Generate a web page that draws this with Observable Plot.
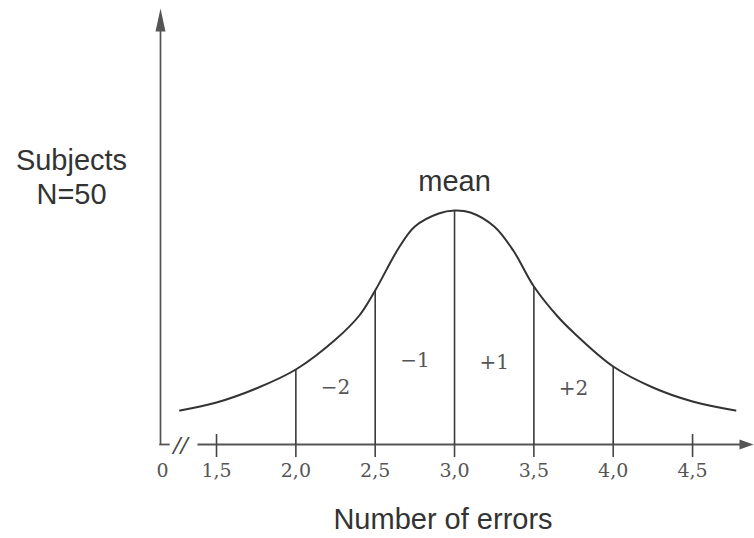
<!DOCTYPE html>
<html>
<head>
<meta charset="utf-8">
<script src="https://cdn.jsdelivr.net/npm/d3@7"></script>
<script src="https://cdn.jsdelivr.net/npm/@observablehq/plot@0.6"></script>
<style>
  body { margin: 0; background: #fff; }
</style>
</head>
<body>
<div id="chart"></div>
<script>
// Distribution of the number of errors made by subjects (N = 50)
const errors    = [1.27, 1.5, 1.75, 2.0, 2.25, 2.4, 2.5, 2.65, 2.75, 2.9, 3.0, 3.1, 3.25, 3.37, 3.5, 3.65, 3.75, 4.0, 4.25, 4.5, 4.77];
const frequency = [34, 42, 56, 75, 105, 129, 154, 197, 218, 231, 234, 232, 218, 194, 158, 128, 112, 78, 57, 43, 34];

// Standard-deviation cut points and the band names between them
const sigmaCuts  = [2.0, 2.5, 3.0, 3.5, 4.0];
const sigmaBands = ["−2", "−1", "+1", "+2"];
const meanValue  = 3.0;

// Axis ticks
const tickValues = [1.5, 2.0, 2.5, 3.0, 3.5, 4.0, 4.5];
const tickLabels = ["1,5", "2,0", "2,5", "3,0", "3,5", "4,0", "4,5"];

// ---- layout ----
const sans  = "'Liberation Sans', Arial, sans-serif";
const serif = "'DejaVu Serif', 'Liberation Serif', serif";
const ink = "#333";
const axisInk = "#555";

const x0 = 1.147, x1 = 4.884;   // horizontal extent of the axis
const yTop = 436;               // vertical extent of the axis
const breakAt = 1.273;          // axis break between 0 and 1,5
const bandLabelY = [57, 84, 82, 56];

const heightAt = v => frequency[errors.indexOf(v)];

// filled arrowheads, tip at the symbol origin
const arrowUp = { draw(ctx) { ctx.moveTo(0, 0); ctx.lineTo(5, 23); ctx.lineTo(-5, 23); ctx.closePath(); } };
const arrowRight = { draw(ctx) { ctx.moveTo(0, 0); ctx.lineTo(-14, 5); ctx.lineTo(-14, -5); ctx.closePath(); } };

const chart = Plot.plot({
  width: 754,
  height: 538,
  marginTop: 8,
  marginRight: 1,
  marginBottom: 94,
  marginLeft: 160,
  x: { domain: [x0, x1] },
  y: { domain: [0, yTop], axis: null },
  style: { background: "#fff", fontFamily: sans, overflow: "visible" },
  marks: [
    // vertical axis with arrow
    Plot.ruleX([x0], { x: d => d, y1: 0, y2: yTop - 20, stroke: axisInk, strokeWidth: 1.7 }),
    Plot.dot([x0], { x: d => d, y: yTop, symbol: arrowUp, r: 5, fill: axisInk, stroke: "none" }),

    // horizontal axis, broken between 0 and 1,5, with arrow
    Plot.ruleY([0], { x1: x0 - 0.005, x2: breakAt - 0.065, stroke: axisInk, strokeWidth: 1.8 }),
    Plot.ruleY([0], { x1: breakAt + 0.11, x2: x1 - 0.06, stroke: axisInk, strokeWidth: 1.8 }),
    Plot.dot([0], { x: x1, y: d => d, symbol: arrowRight, r: 5, fill: axisInk, stroke: "none" }),
    Plot.text(["//"], { x: breakAt, y: 0, text: d => d, fontFamily: "'Liberation Serif', serif", fontStyle: "italic", fontWeight: "bold", fontSize: 26, fill: "#444", lineAnchor: "middle", dy: 1 }),

    // ticks and labels
    Plot.axisX(tickValues, {
      tickSize: 13, tickPadding: 6, strokeWidth: 1.6,
      stroke: "#444", fill: "#555",
      tickFormat: (d, i) => tickLabels[i],
      fontFamily: serif, fontSize: 19, label: null
    }),
    Plot.ruleX(tickValues.filter(v => !sigmaCuts.includes(v)), { x: d => d, y1: 0, y2: 10, stroke: "#444", strokeWidth: 1.6 }),
    Plot.text(["0"], { x: x0, y: 0, text: d => d, lineAnchor: "top", dy: 19, dx: 2, fontFamily: serif, fontSize: 19, fill: "#555" }),

    // standard-deviation dividers
    Plot.ruleX(sigmaCuts, { x: d => d, y1: heightAt, y2: 0, stroke: "#3a3a3a", strokeWidth: 1.6 }),

    // distribution curve
    Plot.line(errors, { x: d => d, y: (d, i) => frequency[i], curve: "catmull-rom", stroke: ink, strokeWidth: 2 }),

    // band labels
    Plot.text(sigmaBands, {
      x: (d, i) => (sigmaCuts[i] + sigmaCuts[i + 1]) / 2,
      y: (d, i) => bandLabelY[i],
      text: d => d, fontFamily: serif, fontSize: 20, fill: "#555", lineAnchor: "middle"
    }),

    // annotations
    Plot.text([meanValue], { x: d => d, y: heightAt, dy: -29, text: () => "mean", fontSize: 29, fill: ink, lineAnchor: "middle" }),
    Plot.text(["Subjects\nN=50"], { frameAnchor: "top-left", textAnchor: "middle", dx: -89, dy: 168, text: d => d, fontSize: 29, lineHeight: 1.17, fill: ink, lineAnchor: "middle" }),
    Plot.text(["Number of errors"], { frameAnchor: "bottom", dx: -14, dy: 75, text: d => d, fontSize: 29, fill: ink, lineAnchor: "middle" })
  ]
});

document.getElementById("chart").append(chart);
</script>
</body>
</html>
